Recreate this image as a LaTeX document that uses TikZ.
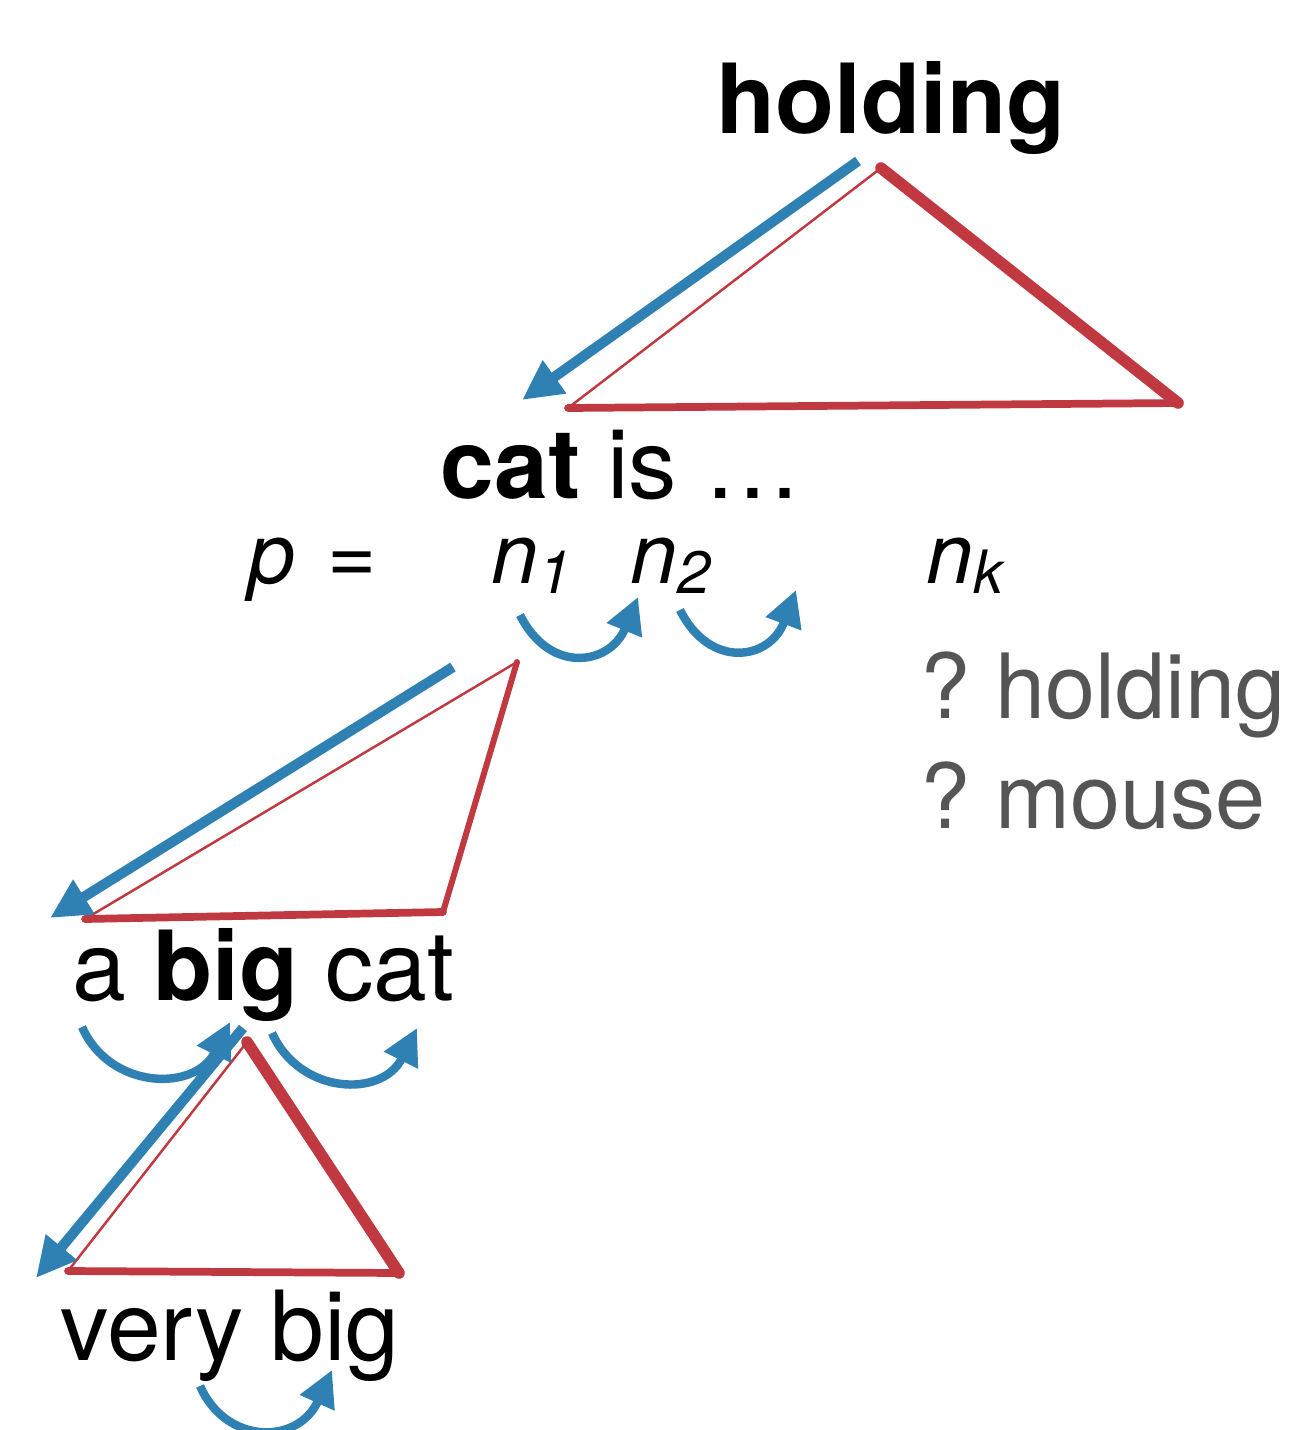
\documentclass[tikz,border=0pt]{standalone}
\usepackage{fontspec}
\setmainfont{TeX Gyre Heros}
\usetikzlibrary{arrows.meta}
\definecolor{myblue}{RGB}{46,129,178}
\definecolor{myred}{RGB}{192,57,64}
\definecolor{mygray}{RGB}{85,85,85}
\newcommand{\subn}[1]{n\raisebox{-0.1cm}{\fontsize{17}{18}\selectfont\itshape #1}}
\begin{document}
\begin{tikzpicture}[x=0.01cm,y=-0.01cm,
  word/.style={inner sep=0pt,anchor=base west,font=\fontsize{27.5}{32}\selectfont},
  qword/.style={inner sep=0pt,anchor=base west,text=mygray,font=\fontsize{25.6}{30}\selectfont},
  mathw/.style={inner sep=0pt,anchor=base west,font=\fontsize{24}{28}\selectfont\itshape},
  bluearrow/.style={draw=myblue,line width=2.9pt,-{Triangle[length=0.4cm,width=0.38cm]}},
  bluecurve/.style={draw=myblue,line width=2.4pt,-{Triangle[length=0.36cm,width=0.36cm]}},
  redthin/.style={draw=myred,line width=0.7pt,line cap=round},
  redmid/.style={draw=myred,line width=2.2pt,line cap=round},
  redmed/.style={draw=myred,line width=1.7pt,line cap=round},
  redthick/.style={draw=myred,line width=3.3pt,line cap=round}
]
\useasboundingbox (0,0) rectangle (1300,1430);

% words
\node[word] (holding) at (716,133) {\textbf{holding}};
\node[word] (catis) at (440,498) {\textbf{cat} is …};
\node[word] (abigcat) at (72,1000) {a \textbf{big} cat};
\node[word] (verybig) at (60,1360) {very big};
\node[qword] (qhold) at (920,718) {?\hspace{-0.1em} holding};
\node[qword] (qmouse) at (920,828) {?\hspace{-0.1em} mouse};

% p = n1 n2 nk
\node[mathw] (p) at (248,583) {p};
\node[inner sep=0pt,anchor=base west,font=\fontsize{24}{28}\selectfont] (eq) at (327,583) {=};
\node[mathw] (n1) at (491,583) {\subn{1}};
\node[mathw] (n2) at (630,583) {\subn{2}};
\node[mathw] (nk) at (926,583) {\subn{k}};

% triangle 1
\coordinate (t1a) at (881,168);
\coordinate (t1l) at (568,408);
\coordinate (t1r) at (1178,403);
\draw[redthin] (t1a) -- (t1l);
\draw[redmid] (t1l) -- (t1r);
\draw[redthick] (t1r) -- (t1a);
% triangle 2
\coordinate (t2a) at (517,662);
\coordinate (t2l) at (85,919);
\coordinate (t2r) at (443,912);
\draw[redthin] (t2a) -- (t2l);
\draw[redmid] (t2l) -- (t2r);
\draw[redmed] (t2r) -- (t2a);
% triangle 3
\coordinate (t3a) at (247,1042);
\coordinate (t3l) at (68,1271);
\coordinate (t3r) at (399,1273);
\draw[redthin] (t3a) -- (t3l);
\draw[redmid] (t3l) -- (t3r);
\draw[redthick] (t3r) -- (t3a);

% straight blue arrows
\coordinate (b1s) at (858,161);
\coordinate (b1e) at (522,400);
\draw[bluearrow] (b1s) -- (b1e);
\coordinate (b2s) at (453,667);
\coordinate (b2e) at (50,918);
\draw[bluearrow] (b2s) -- (b2e);
\coordinate (b3s) at (243,1028);
\coordinate (b3e) at (36,1278);
\draw[bluearrow] (b3s) -- (b3e);

% curved blue arrows
\coordinate (c1s) at (520,615);
\coordinate (c1e) at (638,597);
\draw[bluecurve] (c1s) .. controls (550,675) and (610,665) .. (c1e);
\coordinate (c2s) at (680,610);
\coordinate (c2e) at (796,590);
\draw[bluecurve] (c2s) .. controls (710,670) and (770,660) .. (c2e);
\coordinate (c3s) at (82,1027);
\coordinate (c3e) at (230,1022);
\draw[bluecurve] (c3s) .. controls (110,1090) and (195,1092) .. (c3e);
\coordinate (c4s) at (272,1033);
\coordinate (c4e) at (417,1028);
\draw[bluecurve] (c4s) .. controls (300,1095) and (382,1098) .. (c4e);
\coordinate (c5s) at (200,1386);
\coordinate (c5e) at (332,1370);
\draw[bluecurve] (c5s) .. controls (226,1445) and (298,1445) .. (c5e);
\end{tikzpicture}
\end{document}
